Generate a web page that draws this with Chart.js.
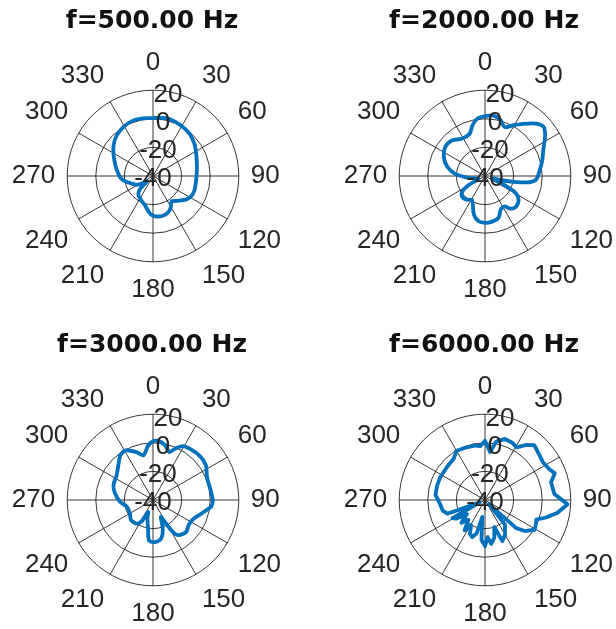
<!DOCTYPE html>
<html>
<head>
<meta charset="utf-8">
<script src="https://cdn.jsdelivr.net/npm/chart.js@4.4.1/dist/chart.umd.min.js"></script>
<style>
  html, body { margin: 0; padding: 0; background: #fff; }
  #wrap { position: relative; width: 616px; height: 629px; overflow: hidden; background: #fff; }
  canvas { position: absolute; }
</style>
</head>
<body>
<div id="wrap">
  <canvas id="c500" width="364" height="305" style="left:-30px;top:0px"></canvas>
  <canvas id="c2000" width="364" height="305" style="left:302px;top:0px"></canvas>
  <canvas id="c3000" width="364" height="305" style="left:-30px;top:324px"></canvas>
  <canvas id="c6000" width="364" height="305" style="left:302px;top:324px"></canvas>
</div>
<script>
// ---- data (angle in degrees, clockwise from top; level in dB) ----
const titles = ['f=500.00 Hz', 'f=2000.00 Hz', 'f=3000.00 Hz', 'f=6000.00 Hz'];
const angleTickLabels = ['0', '30', '60', '90', '120', '150', '180', '210', '240', '270', '300', '330'];
const radialMin = -40;
const radialMax = 20;
const radialStep = 20;

const angles500 = [0, 8, 16, 29, 41, 52, 64, 80, 97, 110, 118, 125, 131, 138, 144, 150, 156, 163, 170, 177, 183, 189, 196, 203, 210, 217, 224, 230, 240, 251, 262, 270, 281, 290, 298, 308, 318, 329, 340, 350];
const db500 = [0.5, 1, 1.5, 0.4, -1, -3.3, -6.3, -8.8, -9.7, -9.3, -9.8, -11.5, -14, -16.5, -18, -15, -12.8, -11.6, -11.4, -11.8, -13, -16, -19, -20.5, -22, -23, -26.4, -34.5, -27.8, -23.9, -18.8, -16.5, -14, -11.5, -8.8, -5, -2, 0, 1.2, 1];

const angles2000 = [0, 8, 15, 22, 28, 36, 44, 50, 56, 65, 76, 85, 94, 98, 101, 104, 109, 114, 118, 124, 134, 142, 147, 155, 162, 172, 180, 188, 196, 203, 209, 218, 228, 236, 241, 246, 256, 263, 268, 274, 284, 295, 306, 317, 328, 340, 346, 352];
const db2000 = [1.8, 2.7, 0.8, -3.1, -0.1, 5.1, 11, 13.5, 10.7, 5.1, 1.1, -1.8, -4.1, -8.6, -17.7, -27, -35, -27, -17, -11.8, -9.5, -11, -14.6, -14, -9.3, -7.6, -7.2, -8, -11.9, -18.2, -21, -19, -18.4, -21, -27, -35, -33, -29, -25, -19, -12.7, -8.2, -5.6, -6, -9.3, -8.6, -3.6, 0.3];

const angles3000 = [0, 5, 12, 19, 23, 29, 39, 48, 57, 67, 79, 90, 96, 103, 114, 125, 134, 142, 146, 149, 152, 155, 161, 167, 173, 180, 186, 190, 197, 202, 208, 215, 228, 240, 256, 267, 280, 291, 304, 315, 324, 331, 341, 348, 355];
const db3000 = [1.1, 1.5, -0.6, -4.6, -1.2, 3, 4.4, 5, 4.2, 1, 0.8, 1.8, 1.1, -3.3, -8.5, -9.6, -7.7, -9.1, -10.8, -16, -23, -27, -19, -13, -11, -10.6, -12, -20, -26.6, -31, -23, -19.8, -19.2, -21.4, -21, -16.9, -13, -10.4, -9.3, -5.7, -1.2, -0.3, -4.6, -8, -1.7];

const angles6000 = [0, 6, 11, 18, 25, 31, 37, 42, 48, 57, 64, 69, 75, 85, 93, 100, 106, 111, 116, 121, 128, 132, 136, 141, 150, 157, 161, 166, 172, 176, 180, 185, 189, 194, 199, 204, 209, 214, 220, 226, 232, 237, 241, 245, 250, 256, 264, 276, 287, 297, 311, 323, 330, 341, 350, 355];
const db6000 = [1.5, -6.3, 1.6, 4.9, 4.4, 3, 8.2, 11.5, 9.9, 8.4, 9.7, 12.3, 7.8, 8.7, 17.8, 11.5, 4.4, -1.6, -0.5, 0.4, -4.7, -10.6, -36, -17.8, -12, -8.9, -20, -13, -9, -14, -7.7, -12, -28, -16, -12.5, -14, -20, -14.5, -22, -17, -24, -16, -14, -36, -12, -9.5, -8.6, -5.2, -5, -4.9, -4.8, -3.7, -0.2, -1, -1.3, -2.2];

// ---- styling ----
const LINE_COLOR = '#0072BD';
const GRID_COLOR = 'rgba(20,20,20,0.85)';
const TEXT_COLOR = '#262626';
const N = 360;            // one category per degree
const LABEL_STEP = 30;    // grid spoke / label every 30 degrees
const RTICK_INDEX = 10;   // radial tick labels sit along the 10 degree direction

const categoryLabels = Array.from({ length: N }, (_, i) => (i % LABEL_STEP === 0 ? angleTickLabels[i / LABEL_STEP] : ''));

function toSeries(angles, values) {
  const d = new Array(N).fill(null);
  angles.forEach((a, k) => { d[a] = values[k]; });
  return d;
}

const radialTickLabels = {
  id: 'radialTickLabels',
  afterDatasetsDraw(chart) {
    const s = chart.scales.r;
    const ctx = chart.ctx;
    ctx.save();
    ctx.font = '26px "Liberation Sans", Arial, sans-serif';
    ctx.fillStyle = TEXT_COLOR;
    ctx.textAlign = 'center';
    ctx.textBaseline = 'middle';
    s.ticks.forEach(t => {
      const p = s.getPointPositionForValue(RTICK_INDEX, t.value);
      ctx.fillText(t.label, p.x, p.y + 3);
    });
    ctx.restore();
  }
};

function makeChart(id, title, angles, values, tension) {
  return new Chart(document.getElementById(id), {
    type: 'radar',
    data: {
      labels: categoryLabels,
      datasets: [{
        data: toSeries(angles, values),
        spanGaps: true,
        fill: false,
        borderColor: LINE_COLOR,
        backgroundColor: 'rgba(0,0,0,0)',
        borderWidth: 3.8,
        tension: tension,
        pointRadius: 0,
        pointHoverRadius: 0,
        borderJoinStyle: 'round',
        borderCapStyle: 'round'
      }]
    },
    options: {
      responsive: false,
      animation: false,
      devicePixelRatio: 1,
      layout: { padding: 0 },
      plugins: {
        legend: { display: false },
        tooltip: { enabled: false },
        title: {
          display: true,
          text: title,
          color: '#111',
          font: { family: '"DejaVu Sans", sans-serif', size: 25, weight: 'bold', lineHeight: 1.2 },
          padding: { top: 6, bottom: 11 }
        }
      },
      scales: {
        r: {
          min: radialMin,
          max: radialMax,
          ticks: { stepSize: radialStep, display: false },
          grid: { circular: true, color: GRID_COLOR, lineWidth: 1 },
          angleLines: {
            display: true,
            color: c => (c.index % LABEL_STEP === 0 ? GRID_COLOR : 'rgba(0,0,0,0)'),
            lineWidth: c => (c.index % LABEL_STEP === 0 ? 1 : 0)
          },
          pointLabels: {
            display: true,
            color: TEXT_COLOR,
            padding: 12,
            font: { family: '"Liberation Sans", Arial, sans-serif', size: 26, lineHeight: 1.2 }
          }
        }
      }
    },
    plugins: [radialTickLabels]
  });
}

makeChart('c500', titles[0], angles500, db500, 0.3);
makeChart('c2000', titles[1], angles2000, db2000, 0.3);
makeChart('c3000', titles[2], angles3000, db3000, 0.25);
makeChart('c6000', titles[3], angles6000, db6000, 0);
</script>
</body>
</html>
